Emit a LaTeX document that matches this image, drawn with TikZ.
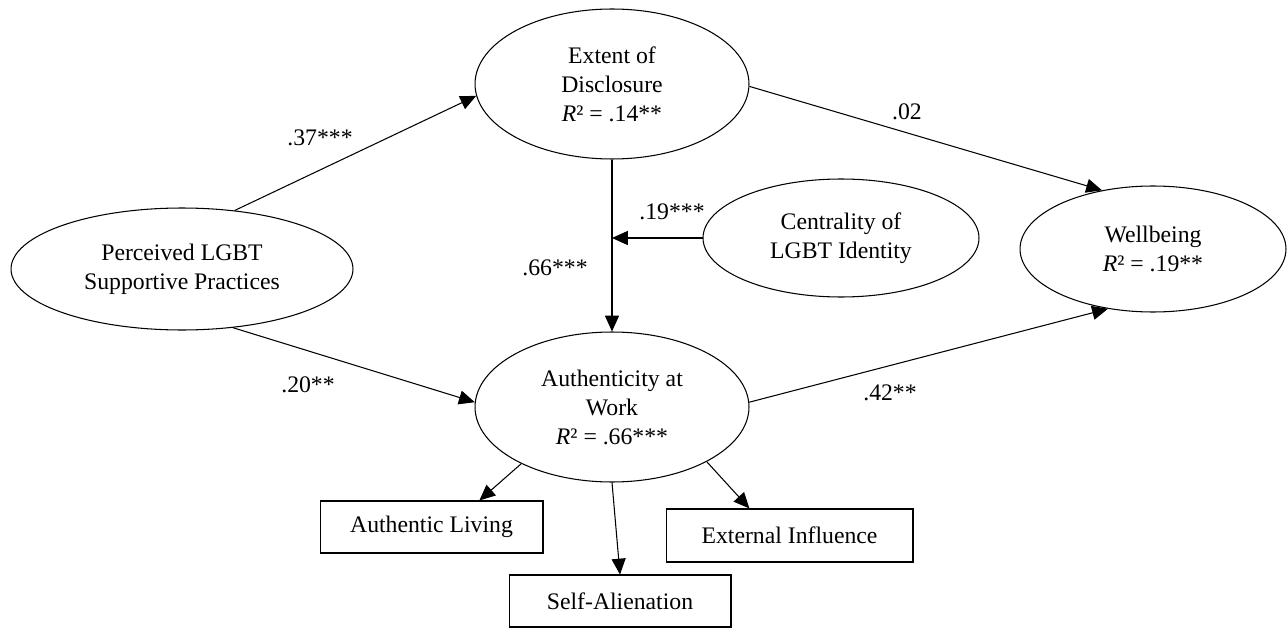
\documentclass[tikz,border=0pt]{standalone}
\usepackage{fontspec}
\setmainfont{Liberation Serif}
\usetikzlibrary{shapes.geometric,arrows.meta,calc}
\begin{document}
\begin{tikzpicture}[x=0.02cm,y=-0.02cm,
  every node/.style={font=\fontsize{13.5}{16.5}\selectfont},
  lat/.style={draw, ellipse, inner sep=0pt, align=center, line width=0.6pt},
  obs/.style={draw, rectangle, inner sep=0pt, line width=0.6pt},
  arr/.style={draw, line width=0.6pt, -{Triangle[length=9pt,width=8pt]}},
  coef/.style={inner sep=0pt}]
\useasboundingbox (0,0) rectangle (1287,628);
% latent variables
\node[lat, minimum width=5.48cm, minimum height=3.0cm] (ED) at (612,84) {Extent of\\Disclosure\\\textit{R}² = .14**};
\node[lat, minimum width=5.48cm, minimum height=3.0cm] (AW) at (612,407) {Authenticity at\\Work\\\textit{R}² = .66***};
\node[lat, minimum width=6.84cm, minimum height=2.44cm] (PL) at (182,269) {Perceived LGBT\\Supportive Practices};
\node[lat, minimum width=5.52cm, minimum height=2.36cm] (CL) at (841,238) {Centrality of\\LGBT Identity};
\node[lat, minimum width=5.32cm, minimum height=2.52cm] (WB) at (1153,249) {Wellbeing\\\textit{R}² = .19**};
% indicators
\node[obs, minimum width=4.46cm, minimum height=1.04cm] (AL) at (431.5,527) {Authentic Living};
\node[obs, minimum width=4.44cm, minimum height=1.04cm] (SA) at (620,601) {Self-Alienation};
\node[obs, minimum width=4.94cm, minimum height=1.06cm] (EI) at (789.5,535.5) {External Influence};
% paths
\draw[arr] (PL.48.7) -- (ED.185.8);
\draw[arr] (PL.-49) -- (AW.178);
\draw[arr] (ED.-1) -- (WB.131.6);
\draw[arr] (AW.2.9) -- (WB.233);
\draw[arr] (ED.south) -- (AW.north);
\coordinate (M) at (CL.west -| ED.south);
\draw[arr] (CL.west) -- (M);
\draw[arr] (AW.212.9) -- (AL.29.2);
\draw[arr] (AW.270) -- (SA.north);
\draw[arr] (AW.-30.6) -- (EI.146.8);
% coefficients
\node[coef] (c1) at (320,138) {.37***};
\node[coef] (c2) at (308,385) {.20**};
\node[coef] (c3) at (555,268) {.66***};
\node[coef] (c4) at (890,393) {.42**};
\node[coef] (c5) at (672,212) {.19***};
\node[coef] (c6) at (907,112) {.02};
\end{tikzpicture}
\end{document}
